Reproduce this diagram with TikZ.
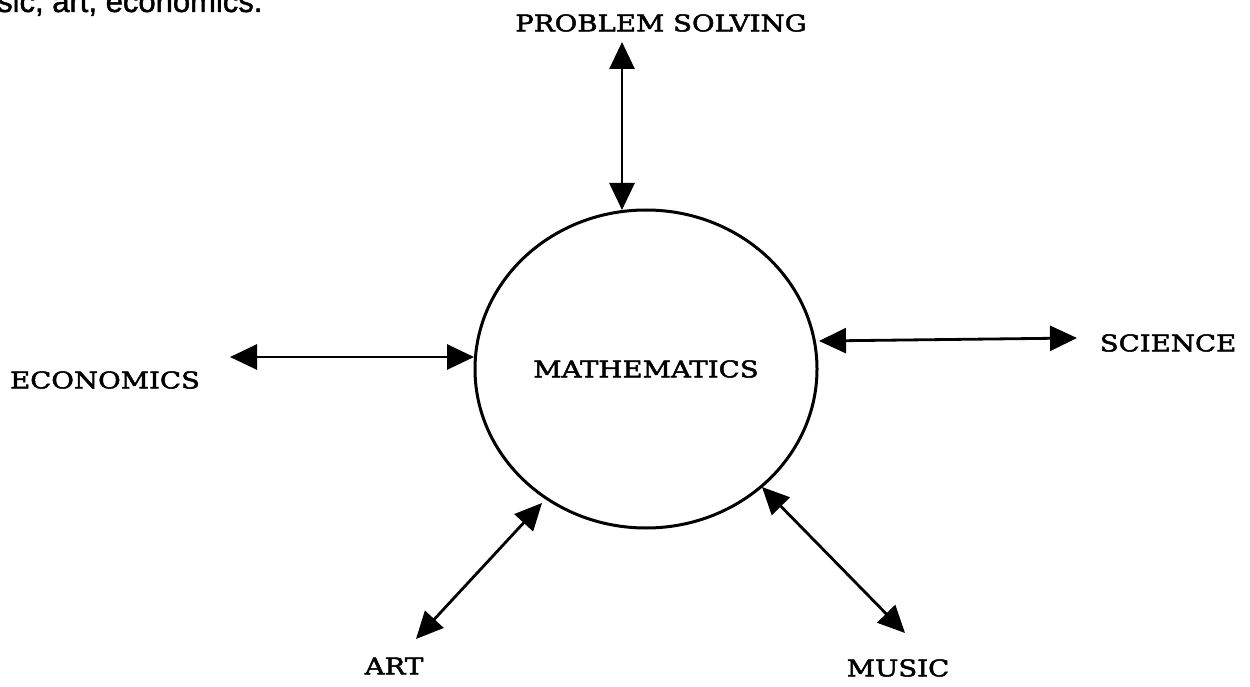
\documentclass[tikz,border=0pt]{standalone}
\usepackage{fontspec}
\usetikzlibrary{arrows.meta,shapes.geometric}
\newfontfamily\labfont[FakeStretch=1.2,FakeBold=2.2]{DejaVu Serif}
\newfontfamily\topfont[FakeBold=1.5]{Liberation Sans}
\begin{document}
\begin{tikzpicture}[x=1pt,y=-1pt,
  lab/.style={font=\labfont\fontsize{23}{23}\selectfont, inner sep=0pt},
  link/.style={line width=2.8pt, {Triangle[length=27pt,width=25pt]}-{Triangle[length=27pt,width=25pt]}}]
\useasboundingbox (0,0) rectangle (1250,687);
% partial caption at the top left
\node[font=\topfont\fontsize{31}{31}\selectfont, anchor=base west, inner sep=0pt] (cap) at (-3,12) {sic, art, economics.};
% centre
\node[draw, line width=3pt, ellipse, minimum width=342pt, minimum height=318pt, outer sep=0pt, inner sep=0pt, lab] (m) at (646,369) {MATHEMATICS};
% labels
\node[lab] (ps) at (661,23) {PROBLEM SOLVING};
\node[lab] (eco) at (105,380) {ECONOMICS};
\node[lab] (sci) at (1168,343) {SCIENCE};
\node[lab] (art) at (394,666) {ART};
\node[lab] (mus) at (898,668) {MUSIC};
% arrow ends
\coordinate (psA) at (622,42);
\coordinate (psB) at (622,210);
\coordinate (ecoA) at (230,357);
\coordinate (ecoB) at (474,357);
\coordinate (sciA) at (819,341);
\coordinate (sciB) at (1077,338);
\coordinate (artA) at (416,639);
\coordinate (artB) at (542,503);
\coordinate (musA) at (762,487);
\coordinate (musB) at (905,633);
% connectors
\draw[link] (psA) -- (psB);
\draw[link] (ecoA) -- (ecoB);
\draw[link] (sciA) -- (sciB);
\draw[link] (artA) -- (artB);
\draw[link] (musA) -- (musB);
\end{tikzpicture}
\end{document}
